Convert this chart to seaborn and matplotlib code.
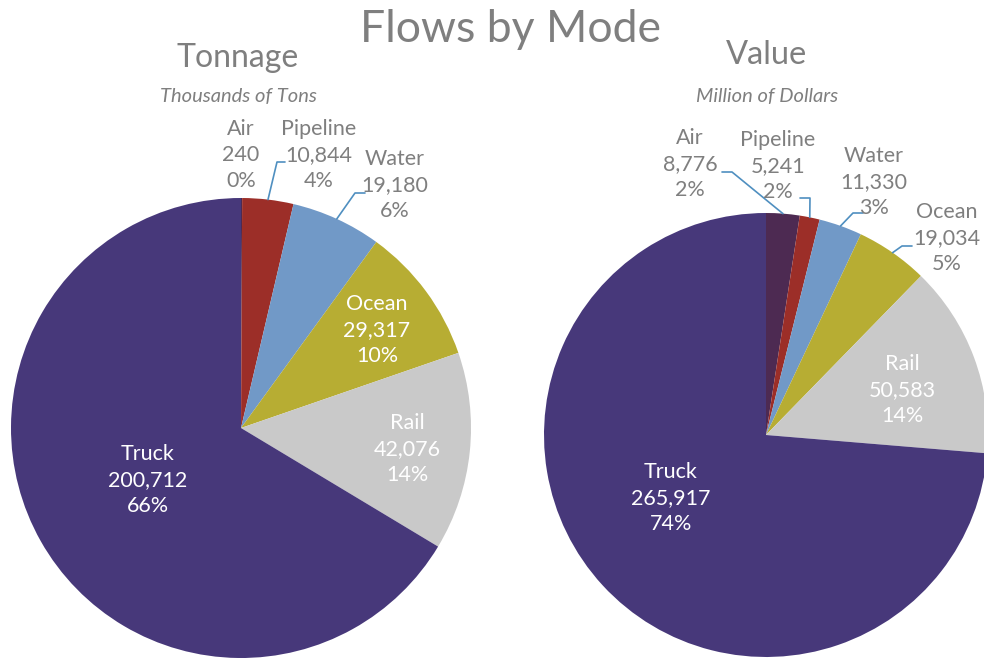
import seaborn as sns
from matplotlib import pyplot as plt
import numpy as np

# data
modes = ['Air', 'Pipeline', 'Water', 'Ocean', 'Rail', 'Truck']
tonnage = [240, 10844, 19180, 29317, 42076, 200712]
tonnage_pct = [0, 4, 6, 10, 14, 66]
value = [8776, 5241, 11330, 19034, 50583, 265917]
value_pct = [2, 2, 3, 5, 14, 74]

colors = ['#4d2a52', '#9c2e28', '#7199c7', '#b7ad33', '#c9c9c9', '#47387a']
GREY = '#7f7f7f'
LEADER = '#4f8fc0'
H = 660


def draw_pie(ax, vals, pcts, center, radius, label_pos, label_white, leaders):
    cx, cy = center
    wedges, _ = ax.pie(
        vals, colors=colors, startangle=90, counterclock=False,
        center=(cx, H - cy), radius=radius,
        wedgeprops=dict(linewidth=0),
    )
    for i, (name, v, p) in enumerate(zip(modes, vals, pcts)):
        x, y = label_pos[i]
        ax.text(x, H - y, f"{name}\n{v:,}\n{p}%", ha='center', va='center',
                multialignment='center', fontsize=15.5, linespacing=1.38,
                color='white' if label_white[i] else GREY)
        if i in leaders:
            w = wedges[i]
            mid = np.deg2rad((w.theta1 + w.theta2) / 2)
            rx = cx + radius * np.cos(mid)
            ry = (H - cy) + radius * np.sin(mid)
            (ex, ey), (sx, sy) = leaders[i]
            ax.plot([rx, ex, sx], [ry, H - ey, H - sy], color=LEADER, lw=1.2)


sns.set_theme(style='white')
plt.rcParams['font.family'] = ['Lato', 'DejaVu Sans']

fig = plt.figure(figsize=(9.84, 6.6), dpi=100)
ax = fig.add_axes([0, 0, 1, 1])

draw_pie(
    ax, tonnage, tonnage_pct, (241, 428), 230,
    [(241, 155), (319, 155), (395, 185), (377, 330), (407, 449), (148, 480)],
    [False, False, False, True, True, True],
    {1: [(277, 162), (285, 162)], 2: [(355, 193), (365, 193)]},
)
draw_pie(
    ax, value, value_pct, (766, 435), 222,
    [(690, 164), (778, 166), (874, 182), (947, 238), (902, 390), (671, 498)],
    [False, False, False, False, True, True],
    {0: [(732, 172), (722, 172)], 1: [(810, 198), (800, 198)],
     2: [(853, 213), (863, 213)], 3: [(902, 246), (912, 246)]},
)

ax.text(510, H - 30, 'Flows by Mode', ha='center', va='center',
        fontsize=32, color=GREY)
ax.text(238, H - 58, 'Tonnage', ha='center', va='center',
        fontsize=23, color=GREY)
ax.text(767, H - 55, 'Value', ha='center', va='center',
        fontsize=23.5, color=GREY)
ax.text(238, H - 97, 'Thousands of Tons', ha='center', va='center',
        fontsize=14.5, style='italic', color=GREY)
ax.text(767, H - 97, 'Million of Dollars', ha='center', va='center',
        fontsize=14.5, style='italic', color=GREY)

ax.set_xlim(0, 984)
ax.set_ylim(0, H)
ax.set_aspect('equal')
ax.axis('off')

fig.savefig('out.png', dpi=100, facecolor='white')
